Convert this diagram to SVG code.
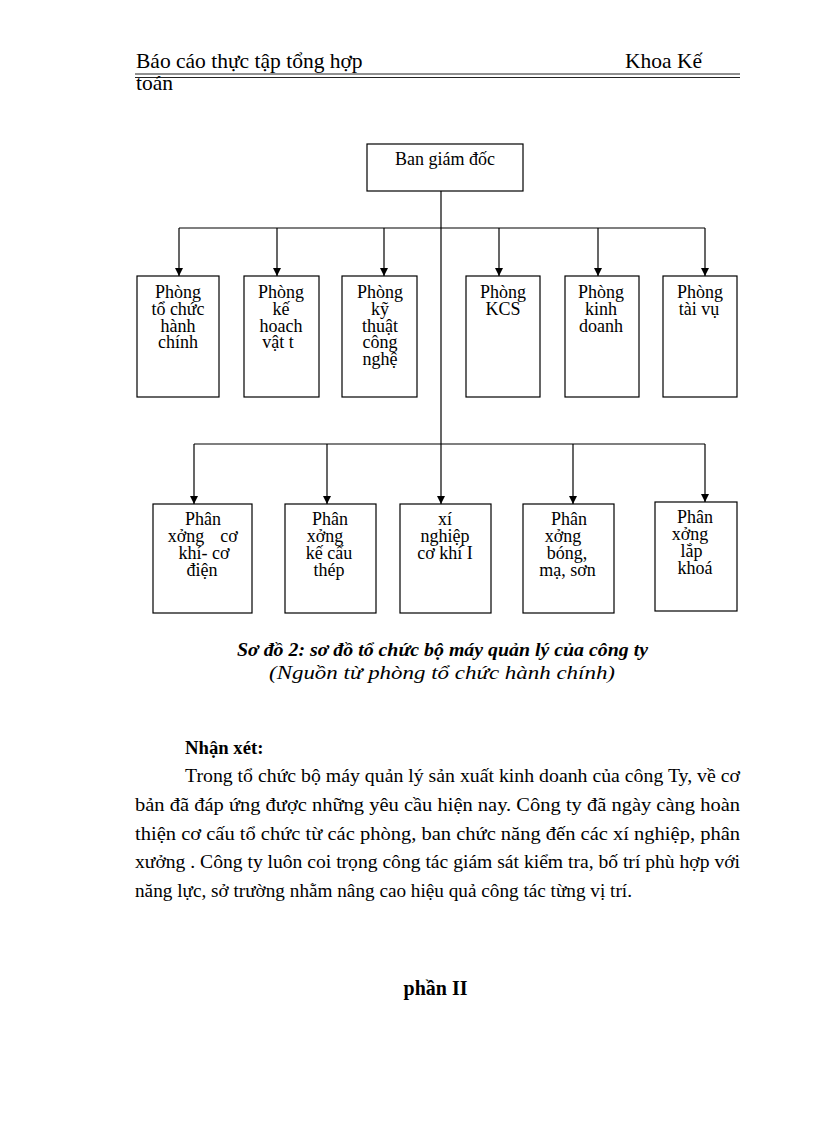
<svg xmlns="http://www.w3.org/2000/svg" width="816" height="1123" viewBox="0 0 816 1123">
<defs>
<marker id="arr" viewBox="0 0 8 8" refX="8" refY="4" markerWidth="8" markerHeight="8" markerUnits="userSpaceOnUse" orient="auto">
<path d="M0,0 L8,4 L0,8 Z" fill="#000"/>
</marker>
<style>
.t{font-family:"Liberation Serif","Times New Roman",serif;fill:#000}
.hd{font-size:21.5px}
.bx{fill:#fff;stroke:#000;stroke-width:1.2}
.lb{font-family:"Liberation Serif","Times New Roman",serif;font-size:18px;text-anchor:middle;fill:#000}
.ln{fill:none;stroke:#000;stroke-width:1.2}
.ar{fill:none;stroke:#000;stroke-width:1.2;marker-end:url(#arr)}
.body{font-size:18.7px}
</style>
</defs>
<rect width="816" height="1123" fill="#fff"/>

<!-- header -->
<text class="t hd" x="136" y="68">Báo cáo thực tập tổng hợp</text>
<text class="t hd" x="625" y="68">Khoa Kế</text>
<line x1="135" y1="74" x2="740" y2="74" stroke="#222" stroke-width="1.2"/>
<line x1="135" y1="77.5" x2="740" y2="77.5" stroke="#222" stroke-width="1.2"/>
<text class="t hd" x="136" y="90">toán</text>

<!-- connectors -->
<g id="connectors">
<line class="ln" x1="441" y1="191" x2="441" y2="444"/>
<line class="ar" x1="441" y1="444" x2="441" y2="504"/>
<line class="ln" x1="179" y1="228" x2="705" y2="228"/>
<line class="ar" x1="179" y1="228" x2="179" y2="276"/>
<line class="ar" x1="277" y1="228" x2="277" y2="276"/>
<line class="ar" x1="384" y1="228" x2="384" y2="276"/>
<line class="ar" x1="499" y1="228" x2="499" y2="276"/>
<line class="ar" x1="598" y1="228" x2="598" y2="276"/>
<line class="ar" x1="705" y1="228" x2="705" y2="276"/>
<line class="ln" x1="194" y1="444" x2="705" y2="444"/>
<line class="ar" x1="194" y1="444" x2="194" y2="504"/>
<line class="ar" x1="327" y1="444" x2="327" y2="504"/>
<line class="ar" x1="573" y1="444" x2="573" y2="504"/>
<line class="ar" x1="705" y1="444" x2="705" y2="502"/>
</g>

<g id="ban-giam-doc">
<rect class="bx" x="367" y="144" width="156" height="47"/>
<text class="lb" x="445" y="165">Ban giám đốc</text>
</g>

<g id="phong-tchc">
<rect class="bx" x="137" y="276" width="82" height="121"/>
<text class="lb" x="178"><tspan x="178" y="298">Phòng</tspan><tspan x="178" y="315">tổ chức</tspan><tspan x="178" y="331.5">hành</tspan><tspan x="178" y="348">chính</tspan></text>
</g>
<g id="phong-khvt">
<rect class="bx" x="244" y="276" width="75" height="121"/>
<text class="lb" x="281"><tspan x="281" y="298">Phòng</tspan><tspan x="281" y="315">kế</tspan><tspan x="281" y="331.5">hoach</tspan><tspan x="278" y="348">vật t</tspan></text>
</g>
<g id="phong-ktcn">
<rect class="bx" x="342" y="276" width="75" height="121"/>
<text class="lb" x="380"><tspan x="380" y="298">Phòng</tspan><tspan x="380" y="315">kỹ</tspan><tspan x="380" y="331.5">thuật</tspan><tspan x="380" y="348">công</tspan><tspan x="380" y="365">nghệ</tspan></text>
</g>
<g id="phong-kcs">
<rect class="bx" x="466" y="276" width="74" height="121"/>
<text class="lb" x="503"><tspan x="503" y="298">Phòng</tspan><tspan x="503" y="315">KCS</tspan></text>
</g>
<g id="phong-kd">
<rect class="bx" x="565" y="276" width="74" height="121"/>
<text class="lb" x="601"><tspan x="601" y="298">Phòng</tspan><tspan x="601" y="315">kinh</tspan><tspan x="601" y="331.5">doanh</tspan></text>
</g>
<g id="phong-tv">
<rect class="bx" x="663" y="276" width="74" height="121"/>
<text class="lb" x="700"><tspan x="700" y="298">Phòng</tspan><tspan x="699" y="315">tài vụ</tspan></text>
</g>

<g id="px-co-khi-co-dien">
<rect class="bx" x="153" y="504" width="99" height="109"/>
<text class="lb" x="203"><tspan x="203" y="525">Phân</tspan><tspan x="186" y="542">xởng</tspan><tspan x="229" y="542">cơ</tspan><tspan x="204" y="559">khí- cơ</tspan><tspan x="202" y="576">điện</tspan></text>
</g>
<g id="px-ket-cau-thep">
<rect class="bx" x="285" y="504" width="91" height="109"/>
<text class="lb" x="330"><tspan x="330" y="525">Phân</tspan><tspan x="325" y="542">xởng</tspan><tspan x="329" y="559">kế cấu</tspan><tspan x="329" y="576">thép</tspan></text>
</g>
<g id="xi-nghiep-co-khi">
<rect class="bx" x="400" y="504" width="91" height="109"/>
<text class="lb" x="445"><tspan x="445" y="525">xí</tspan><tspan x="445" y="542">nghiệp</tspan><tspan x="445" y="558.5">cơ khí I</tspan></text>
</g>
<g id="px-bong-ma-son">
<rect class="bx" x="523" y="504" width="91" height="109"/>
<text class="lb" x="569"><tspan x="569" y="525">Phân</tspan><tspan x="563" y="542">xởng</tspan><tspan x="567" y="559">bóng,</tspan><tspan x="567.5" y="576">mạ, sơn</tspan></text>
</g>
<g id="px-lap-khoa">
<rect class="bx" x="655" y="502" width="82" height="109"/>
<text class="lb" x="695"><tspan x="695" y="523">Phân</tspan><tspan x="690" y="540">xởng</tspan><tspan x="691.5" y="557">lắp</tspan><tspan x="695" y="574">khoá</tspan></text>
</g>

<!-- caption -->
<text class="t" x="442.5" y="656" text-anchor="middle" font-size="18.5px" font-weight="bold" font-style="italic" textLength="411" lengthAdjust="spacingAndGlyphs">Sơ đồ 2: sơ đồ tổ chức bộ máy quản lý của công ty</text>
<text class="t" x="442" y="679" text-anchor="middle" font-size="18.5px" font-style="italic" textLength="346" lengthAdjust="spacingAndGlyphs">(Nguồn từ phòng tổ chức hành chính)</text>

<!-- body -->
<text class="t body" x="185" y="754" font-weight="bold">Nhận xét:</text>
<text class="t body" x="185" y="782" textLength="555" lengthAdjust="spacingAndGlyphs">Trong tổ chức bộ máy quản lý sản xuất kinh doanh của công Ty, về cơ</text>
<text class="t body" x="135" y="811" textLength="605" lengthAdjust="spacingAndGlyphs">bản đã đáp ứng được những yêu cầu hiện nay. Công ty đã ngày càng hoàn</text>
<text class="t body" x="135" y="840" textLength="605" lengthAdjust="spacingAndGlyphs">thiện  cơ cấu tổ chức từ các phòng, ban chức năng đến các xí nghiệp, phân</text>
<text class="t body" x="135" y="868" textLength="605" lengthAdjust="spacingAndGlyphs">xưởng . Công ty luôn coi trọng công tác giám sát kiểm tra, bố trí phù hợp với</text>
<text class="t body" x="135" y="897" textLength="497" lengthAdjust="spacingAndGlyphs">năng lực, sở trường nhằm nâng cao hiệu quả công tác từng vị trí.</text>

<text class="t" x="435.5" y="995" text-anchor="middle" font-size="20px" font-weight="bold">phần II</text>
</svg>
